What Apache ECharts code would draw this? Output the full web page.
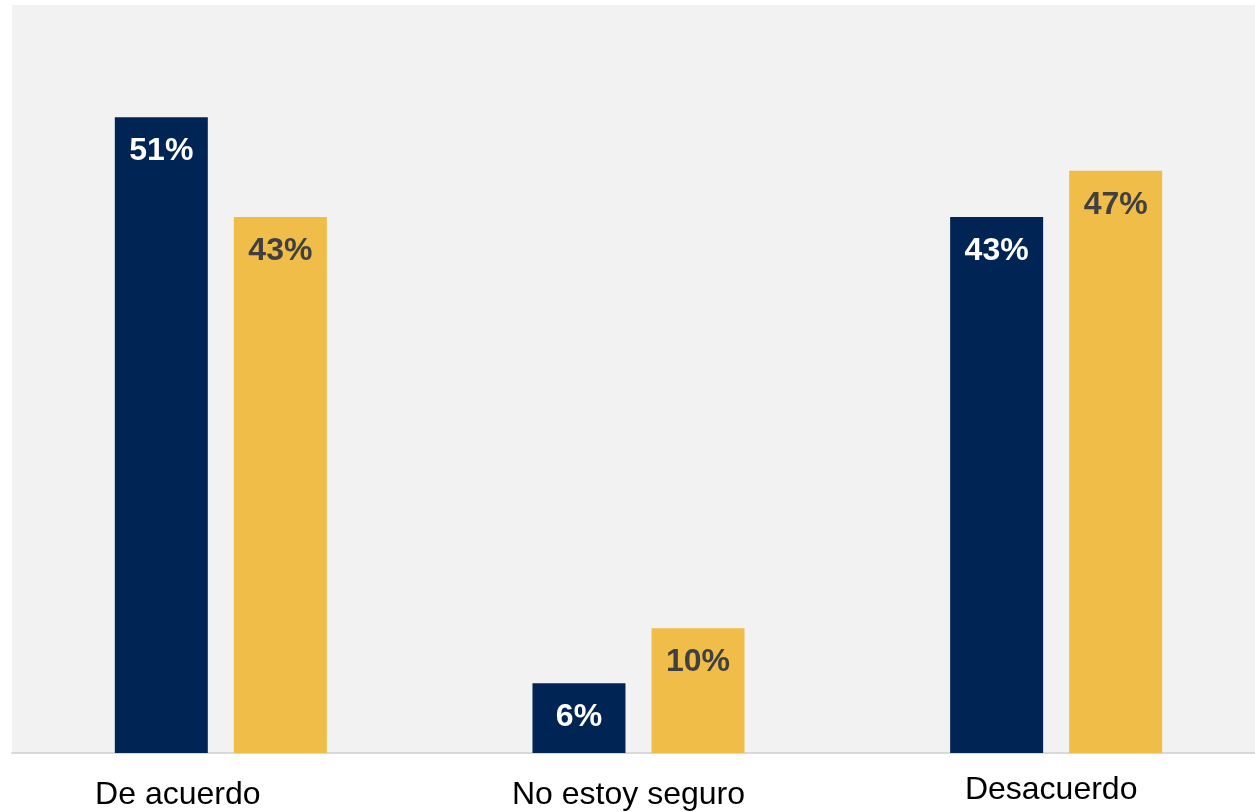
<!DOCTYPE html>
<html>
<head>
<meta charset="utf-8">
<script src="https://cdn.jsdelivr.net/npm/echarts@6/dist/echarts.min.js"></script>
<style>
  html, body { margin: 0; padding: 0; background: #fff; }
  #chart { width: 1255px; height: 812px; }
</style>
</head>
<body>
<div id="chart"></div>
<script>
const categories = ['De acuerdo', 'No estoy seguro', 'Desacuerdo']
const seriesA = [51, 5.6, 43]
const seriesB = [43, 10, 46.7]

const chart = echarts.init(document.getElementById('chart'))

// small per-label nudges so the category names sit like the original
const labelPads = [[5, 86, 0, 0], [5, 20, 0, 0], [0, 10, 0, 0]]

chart.setOption({
  animation: false,
  grid: {
    left: 12,
    width: 1253,
    top: 5,
    bottom: 59,
    outerBoundsMode: 'none',
    show: true,
    backgroundColor: '#f2f2f2',
    borderWidth: 0
  },
  xAxis: {
    type: 'category',
    data: categories.map((c, i) => ({ value: c, textStyle: { padding: labelPads[i] } })),
    axisLine: { lineStyle: { color: '#d9d9d9', width: 2 } },
    axisTick: { show: false },
    axisLabel: {
      margin: 21,
      fontSize: 32,
      color: '#000',
      fontFamily: 'Liberation Sans, Arial, sans-serif',
      interval: 0
    }
  },
  yAxis: {
    type: 'value',
    min: 0,
    max: 60,
    show: false,
    splitLine: { show: false }
  },
  series: [
    {
      type: 'bar',
      data: seriesA,
      barWidth: 93,
      barGap: '28%',
      itemStyle: { color: '#002454' },
      label: {
        show: true,
        position: 'insideTop',
        distance: 18,
        color: '#fff',
        fontSize: 32,
        fontWeight: 'bold',
        fontFamily: 'Liberation Sans, Arial, sans-serif',
        formatter: p => Math.round(p.value) + '%'
      }
    },
    {
      type: 'bar',
      data: seriesB,
      barWidth: 93,
      itemStyle: { color: '#f0bd48' },
      label: {
        show: true,
        position: 'insideTop',
        distance: 18,
        color: '#404040',
        fontSize: 32,
        fontWeight: 'bold',
        fontFamily: 'Liberation Sans, Arial, sans-serif',
        formatter: p => Math.round(p.value) + '%'
      }
    }
  ]
})
</script>
</body>
</html>
